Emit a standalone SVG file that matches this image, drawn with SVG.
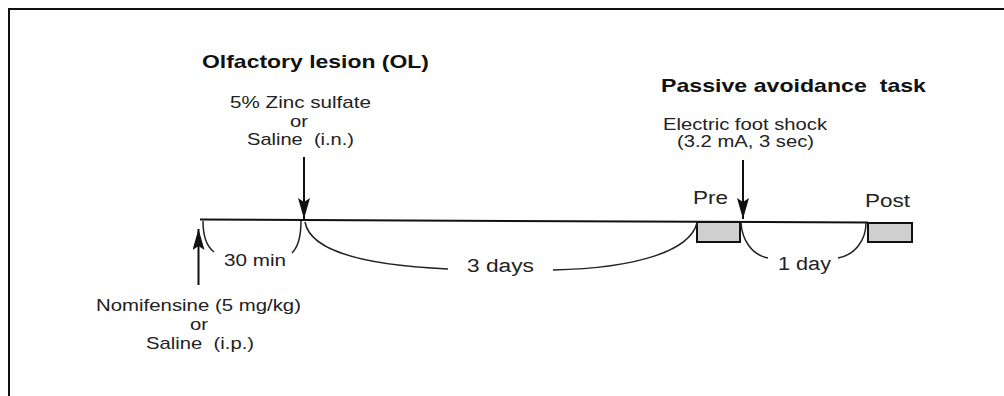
<svg xmlns="http://www.w3.org/2000/svg" width="1004" height="396" viewBox="0 0 1004 396">
<defs>
<style>
.t{font-family:"Liberation Sans",Arial,sans-serif;font-size:17px;fill:#222;}
.b{font-family:"Liberation Sans",Arial,sans-serif;font-size:19px;font-weight:bold;fill:#111;}
.big{font-size:18px;}
.ln{stroke:#111;stroke-width:2;fill:none;}
.cv{stroke:#222;stroke-width:1.5;fill:none;}
.box{fill:#cfcfcf;stroke:#111;stroke-width:2;}
</style>
<marker id="ah" markerWidth="21" markerHeight="12" refX="21" refY="6" orient="auto" markerUnits="userSpaceOnUse" viewBox="0 0 21 12">
<path d="M0,0 L21,6 L0,12 L4,6 Z" fill="#111"/>
</marker>
</defs>
<rect width="1004" height="396" fill="#fff"/>
<g id="frame">
<path d="M9,396 L9,9 L1004,9" class="ln" stroke-width="2.5"/>
</g>
<g id="titles">
<text class="b" x="202" y="68" textLength="227" lengthAdjust="spacingAndGlyphs">Olfactory lesion (OL)</text>
<text class="b" x="661" y="92" textLength="265" lengthAdjust="spacingAndGlyphs" xml:space="preserve">Passive avoidance  task</text>
</g>
<g id="timeline">
<line x1="200" y1="219.5" x2="868" y2="222.5" class="ln"/>
</g>
<g id="zinc">
<text class="t" x="230" y="108" textLength="141" lengthAdjust="spacingAndGlyphs">5% Zinc sulfate</text>
<text class="t" x="290" y="127" textLength="18" lengthAdjust="spacingAndGlyphs">or</text>
<text class="t" x="247" y="145" textLength="107" lengthAdjust="spacingAndGlyphs" xml:space="preserve">Saline  (i.n.)</text>
</g>
<g id="shock">
<text class="t" x="663" y="130" textLength="164" lengthAdjust="spacingAndGlyphs">Electric foot shock</text>
<text class="t" x="677" y="147" textLength="137" lengthAdjust="spacingAndGlyphs">(3.2 mA, 3 sec)</text>
</g>
<g id="nomifensine">
<text class="t" x="96" y="311" textLength="205" lengthAdjust="spacingAndGlyphs">Nomifensine (5 mg/kg)</text>
<text class="t" x="190" y="330" textLength="18" lengthAdjust="spacingAndGlyphs">or</text>
<text class="t" x="146" y="349" textLength="108" lengthAdjust="spacingAndGlyphs" xml:space="preserve">Saline  (i.p.)</text>
</g>
<g id="pre">
<rect class="box" x="697" y="222" width="43" height="20"/>
<text class="t big" x="693" y="204" textLength="35" lengthAdjust="spacingAndGlyphs">Pre</text>
</g>
<g id="post">
<rect class="box" x="868" y="223" width="44" height="19"/>
<text class="t big" x="865" y="207" textLength="45" lengthAdjust="spacingAndGlyphs">Post</text>
</g>
<g id="intervals">
<text class="t" x="224" y="266" textLength="62" lengthAdjust="spacingAndGlyphs">30 min</text>
<text class="t big" x="467" y="272" textLength="67" lengthAdjust="spacingAndGlyphs">3 days</text>
<text class="t big" x="778" y="270" textLength="53" lengthAdjust="spacingAndGlyphs">1 day</text>
</g>
<g id="connectors">
<line x1="304" y1="157" x2="304" y2="219" class="ln" marker-end="url(#ah)"/>
<line x1="743" y1="160" x2="743" y2="219" class="ln" marker-end="url(#ah)"/>
<line x1="198.5" y1="285" x2="198.5" y2="229" class="ln" marker-end="url(#ah)"/>
<path class="cv" d="M203,221 C203,233 206,246 214,252"/>
<path class="cv" d="M301,221 C301,233 299,246 292,253"/>
<path class="cv" d="M305,222 C310,250 360,265 448,269"/>
<path class="cv" d="M553,270 C640,268 690,250 697,223"/>
<path class="cv" d="M741,223 C742,240 752,255 768,258"/>
<path class="cv" d="M866,223 C866,240 855,255 838,258"/>
</g>
</svg>
